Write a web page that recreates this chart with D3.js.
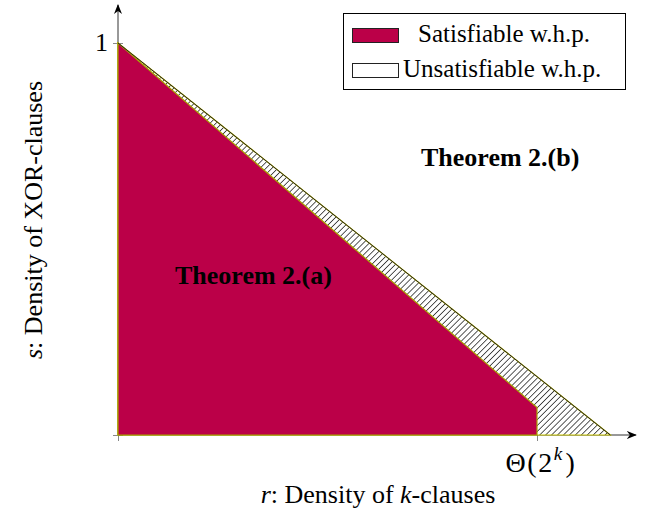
<!DOCTYPE html>
<html>
<head>
<meta charset="utf-8">
<script src="https://cdn.jsdelivr.net/npm/d3@7"></script>
<style>
  body { margin: 0; background: #fff; }
  text { font-family: "Liberation Serif", "Times New Roman", serif; fill: #000; }
</style>
</head>
<body>
<div id="chart"></div>
<script>
var width = 646,
    height = 515;

// region boundaries, r (x) and s (y) coordinates
var satR = [0, 1, 1, 0],
    satS = [1, 0.07, 0, 0];
var unsatR = [0, 1.175, 0],
    unsatS = [1, 0, 0];

var xTickValues = [0, 1],
    yTickValues = [0, 1];
var yTickLabels = ["", "1"];

var legendLabels = ["Satisfiable w.h.p.", "Unsatisfiable w.h.p."];

var x = d3.scaleLinear().domain([0, 1]).range([118, 537]);
var y = d3.scaleLinear().domain([0, 1]).range([435, 43]);

var svg = d3.select("#chart").append("svg")
    .attr("width", width)
    .attr("height", height);

var defs = svg.append("defs");

defs.append("marker")
    .attr("id", "arrow")
    .attr("viewBox", "0 0 10 10")
    .attr("refX", 9).attr("refY", 5)
    .attr("markerWidth", 10).attr("markerHeight", 10)
    .attr("markerUnits", "userSpaceOnUse")
    .attr("orient", "auto")
  .append("path")
    .attr("d", "M0,1 L10,5 L0,9 L3,5 Z")
    .attr("fill", "#000");

var hatch = defs.append("pattern")
    .attr("id", "hatch")
    .attr("patternUnits", "userSpaceOnUse")
    .attr("width", 4.2).attr("height", 4.2)
    .attr("patternTransform", "rotate(45)");
hatch.append("rect").attr("width", 4.2).attr("height", 4.2).attr("fill", "#fff");
hatch.append("line")
    .attr("x1", 0).attr("y1", 0).attr("x2", 0).attr("y2", 4.2)
    .attr("stroke", "#000").attr("stroke-width", 1.3);

/* -------- axes -------- */

var xAxis = d3.axisBottom(x).tickValues(xTickValues).tickFormat("").tickSizeInner(6).tickSizeOuter(0);
var yAxis = d3.axisLeft(y).tickValues(yTickValues).tickFormat(function(d, i) { return yTickLabels[i]; })
    .tickSizeInner(5).tickSizeOuter(0);

var gx = svg.append("g").attr("transform", "translate(0," + y(0) + ")").call(xAxis);
var gy = svg.append("g").attr("transform", "translate(" + x(0) + ",0)").call(yAxis);

gx.select(".domain").remove();
gy.select(".domain").remove();
gx.selectAll(".tick line").attr("stroke", "#888");
gy.selectAll(".tick line").attr("stroke", "#888").attr("x2", 5).attr("x1", -5);
gy.selectAll(".tick text")
    .attr("font-size", 26)
    .attr("font-family", "Liberation Serif, serif")
    .attr("x", -10).attr("dy", "0.3em");

svg.append("line")
    .attr("x1", x(0)).attr("y1", y(0))
    .attr("x2", x(1.236)).attr("y2", y(0))
    .attr("stroke", "#333").attr("stroke-width", 1)
    .attr("marker-end", "url(#arrow)");
svg.append("line")
    .attr("x1", x(0)).attr("y1", y(0))
    .attr("x2", x(0)).attr("y2", y(1.097))
    .attr("stroke", "#333").attr("stroke-width", 1)
    .attr("marker-end", "url(#arrow)");

/* -------- regions -------- */

var area = d3.line().x(function(d) { return x(d[0]); }).y(function(d) { return y(d[1]); });

svg.append("path")
    .attr("d", area(d3.zip(unsatR, unsatS)) + "Z")
    .attr("fill", "url(#hatch)")
    .attr("stroke", "#c8c400")
    .attr("stroke-width", 1.2);

svg.append("path")
    .attr("d", area(d3.zip(satR, satS)) + "Z")
    .attr("fill", "#bb0048")
    .attr("stroke", "#a8a200")
    .attr("stroke-width", 1.2);

svg.append("line")
    .attr("x1", x(0)).attr("y1", y(1))
    .attr("x2", x(1.175)).attr("y2", y(0))
    .attr("stroke", "#222").attr("stroke-width", 1);

/* -------- text -------- */

var thetaLabel = svg.append("text")
    .attr("x", x(1) + 4).attr("y", 472)
    .attr("text-anchor", "middle")
    .attr("font-size", 28)
    .attr("letter-spacing", 1.5);
thetaLabel.append("tspan").text("\u0398(2");
thetaLabel.append("tspan").attr("font-size", 19).attr("font-style", "italic").attr("dy", -12).text("k");
thetaLabel.append("tspan").attr("dy", 12).attr("dx", 2).text(")");

var xLabel = svg.append("text")
    .attr("x", 378).attr("y", 503)
    .attr("text-anchor", "middle")
    .attr("font-size", 26);
xLabel.append("tspan").attr("font-style", "italic").text("r");
xLabel.append("tspan").text(": Density of ");
xLabel.append("tspan").attr("font-style", "italic").text("k");
xLabel.append("tspan").text("-clauses");

var yLabel = svg.append("text")
    .attr("transform", "translate(42,220) rotate(-90)")
    .attr("text-anchor", "middle")
    .attr("font-size", 26);
yLabel.append("tspan").attr("font-style", "italic").text("s");
yLabel.append("tspan").text(": Density of XOR-clauses");

svg.append("text")
    .attr("x", 175).attr("y", 284)
    .attr("font-size", 26).attr("font-weight", "bold")
    .text("Theorem 2.(a)");

svg.append("text")
    .attr("x", 421).attr("y", 166)
    .attr("font-size", 26).attr("font-weight", "bold")
    .text("Theorem 2.(b)");

/* -------- legend -------- */

var legend = svg.append("g");
legend.append("rect")
    .attr("x", 343.5).attr("y", 13.5)
    .attr("width", 282).attr("height", 76)
    .attr("fill", "#fff").attr("stroke", "#000").attr("stroke-width", 1);

legend.append("rect")
    .attr("x", 352.5).attr("y", 28.5).attr("width", 46).attr("height", 14)
    .attr("fill", "#bb0048").attr("stroke", "#222");
legend.append("rect")
    .attr("x", 352.5).attr("y", 63.5).attr("width", 46).attr("height", 14)
    .attr("fill", "#fff").attr("stroke", "#222");

legend.append("text")
    .attr("x", 418).attr("y", 42)
    .attr("font-size", 25)
    .text(legendLabels[0]);
legend.append("text")
    .attr("x", 403).attr("y", 77)
    .attr("font-size", 25)
    .text(legendLabels[1]);
</script>
</body>
</html>
